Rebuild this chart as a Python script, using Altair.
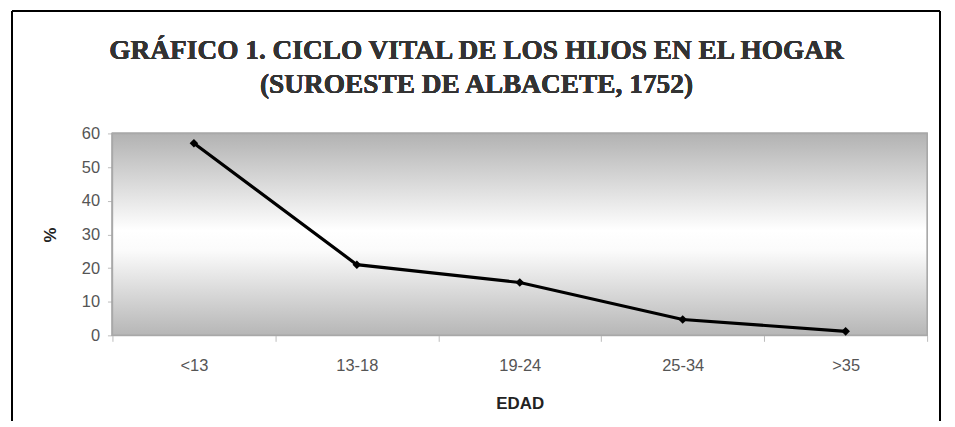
import altair as alt
import pandas as pd

categories = ["<13", "13-18", "19-24", "25-34", ">35"]
values = [57.1, 21.0, 15.7, 4.7, 1.2]
title_lines = ["GRÁFICO 1. CICLO VITAL DE LOS HIJOS EN EL HOGAR",
               "(SUROESTE DE ALBACETE, 1752)"]

df = pd.DataFrame({"edad": categories, "pct": values})

W, H = 819, 203

xenc = alt.X("edad:N", sort=categories, title="EDAD",
             scale=alt.Scale(paddingInner=0, paddingOuter=0),
             axis=alt.Axis(labelAngle=0, tickBand="extent", labelPadding=16,
                           titlePadding=22, domain=False, ticks=True, tickSize=6,
                           tickColor="#bbbbbb", grid=False))
yenc = alt.Y("pct:Q", title="%", scale=alt.Scale(domain=[0, 60], nice=False),
             axis=alt.Axis(values=[0, 10, 20, 30, 40, 50, 60], tickSize=5,
                           tickColor="#bbbbbb", domain=False, labelPadding=8,
                           titlePadding=22, gridColor="#c4c4c4", grid=True))

bg = alt.Chart(df).mark_rect(
    color=alt.LinearGradient(
        gradient="linear", x1=0, x2=0, y1=0, y2=1,
        stops=[alt.GradientStop(offset=0, color="#b2b2b2"),
               alt.GradientStop(offset=0.48, color="#ffffff"),
               alt.GradientStop(offset=0.58, color="#fbfbfb"),
               alt.GradientStop(offset=1, color="#b6b6b6")]),
    stroke="#a8a8a8", strokeWidth=1.5
).encode(x=alt.value(0), x2=alt.value(W), y=alt.value(0), y2=alt.value(H))

line = alt.Chart(df).mark_line(color="#000000", strokeWidth=3.2).encode(x=xenc, y=yenc)
pts = alt.Chart(df).mark_point(shape="diamond", filled=True, color="#000000",
                               size=75, opacity=1).encode(x=xenc, y=yenc)

frame_left = alt.Chart(df).mark_rule(color="#000", strokeWidth=1.5).encode(
    x=alt.value(-101), y=alt.value(-123), y2=alt.value(H + 120))
frame_right = alt.Chart(df).mark_rule(color="#000", strokeWidth=1.5).encode(
    x=alt.value(832), y=alt.value(-123), y2=alt.value(H + 120))
frame_top = alt.Chart(df).mark_rule(color="#000", strokeWidth=1.5).encode(
    x=alt.value(-101), x2=alt.value(832), y=alt.value(-123))

def title_text(txt, yy):
    return alt.Chart(df).mark_text(
        font="Liberation Serif", fontSize=27.5, fontWeight="bold", color="#333333",
        align="center", baseline="middle"
    ).encode(text=alt.value(txt), x=alt.value(366), y=alt.value(yy))

t1 = title_text(title_lines[0], -83)
t2 = title_text(title_lines[1], -49)

chart = alt.layer(bg, line, pts, frame_left, frame_right, frame_top, t1, t2).properties(
    width=W, height=H,
    padding={"left": 105, "top": 125, "right": 20, "bottom": 85},
    autosize=alt.AutoSizeParams(type="none")
).configure(background="white").configure_view(stroke=None).configure_axis(
    labelFont="Liberation Sans", labelFontSize=16.5, labelColor="#555555",
    titleFont="Liberation Sans", titleFontSize=17, titleColor="#222222",
    titleFontWeight="bold"
)

chart.save("out.html", embed_options={"renderer": "svg", "actions": False})
